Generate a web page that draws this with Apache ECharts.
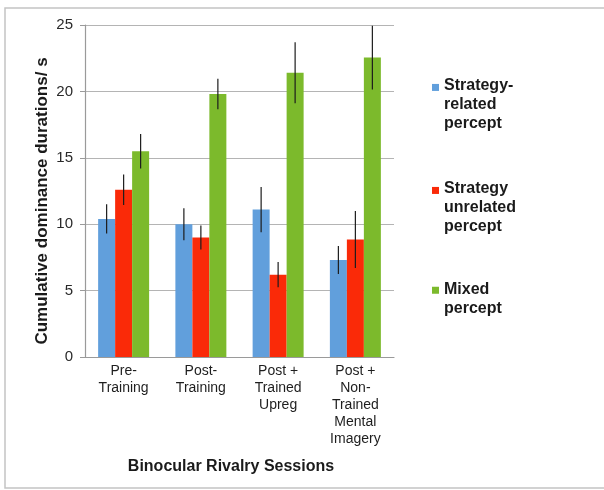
<!DOCTYPE html>
<html>
<head>
<meta charset="utf-8">
<script src="https://cdn.jsdelivr.net/npm/echarts@6/dist/echarts.min.js"></script>
<style>
  html, body { margin: 0; padding: 0; background: #fff; }
  #chart { width: 604px; height: 490px; }
</style>
</head>
<body>
<div id="chart"></div>
<script>
// Session labels along the x axis
const sessions = ['Pre-\nTraining', 'Post-\nTraining', 'Post +\nTrained\nUpreg', 'Post +\nNon-\nTrained\nMental\nImagery'];

// Mean cumulative dominance durations (s) and their error half-widths
const strategyRelated = [10.4, 10.0, 11.1, 7.3];
const strategyRelatedErr = [1.1, 1.2, 1.7, 1.05];
const strategyUnrelated = [12.6, 9.0, 6.2, 8.85];
const strategyUnrelatedErr = [1.15, 0.9, 0.95, 2.15];
const mixed = [15.5, 19.8, 21.4, 22.55];
const mixedErr = [1.3, 1.15, 2.3, 2.4];

const yTicks = [0, 5, 10, 15, 20, 25];

const seriesNames = ['Strategy-\nrelated\npercept', 'Strategy\nunrelated\npercept', 'Mixed\npercept'];
const colors = ['#619fdc', '#fa2a08', '#7cba2c'];
const CAT_GAP = 0.34;

const means = [strategyRelated, strategyUnrelated, mixed];
const errs = [strategyRelatedErr, strategyUnrelatedErr, mixedErr];

// Error-bar records: [category index, low, high, series index]
const errData = [];
means.forEach((vals, k) => {
  vals.forEach((v, i) => {
    errData.push([i, v - errs[k][i], v + errs[k][i], k]);
  });
});

function renderErr(params, api) {
  const cat = api.value(0);
  const k = api.value(3);
  const band = api.size([1, 0])[0];
  const bw = band * (1 - CAT_GAP) / 3;
  const x = api.coord([cat, 0])[0] + (k - 1) * bw;
  const lo = api.coord([cat, api.value(1)])[1];
  const hi = api.coord([cat, api.value(2)])[1];
  return {
    type: 'line',
    shape: { x1: x, y1: lo, x2: x, y2: hi },
    style: { stroke: '#1c1c1c', lineWidth: 1.2 }
  };
}

const chart = echarts.init(document.getElementById('chart'), null, { renderer: 'canvas' });

const FONT = '"Liberation Sans", Arial, sans-serif';
const LINE_H = 19;

// square legend marker beside the first text line of an item `h` px tall
function marker(h) {
  return 'path://M0,0M0,5H8V13H0ZM8,' + h;
}

const legendText = { fontFamily: FONT, fontSize: 16, fontWeight: 'bold', color: '#1a1a1a', lineHeight: LINE_H };

chart.setOption({
  animation: false,
  backgroundColor: '#ffffff',
  textStyle: { fontFamily: FONT },
  grid: { left: 85, right: 210, top: 25, bottom: 133, containLabel: false },
  legend: [
    {
      orient: 'vertical',
      left: 427,
      top: 71,
      itemWidth: 7,
      itemHeight: LINE_H * 3,
      itemGap: 46,
      selectedMode: false,
      textStyle: legendText,
      data: [
        { name: seriesNames[0], icon: marker(LINE_H * 3) },
        { name: seriesNames[1], icon: marker(LINE_H * 3) }
      ]
    },
    {
      orient: 'vertical',
      left: 427,
      top: 275,
      itemWidth: 7,
      itemHeight: LINE_H * 2,
      selectedMode: false,
      textStyle: legendText,
      data: [
        { name: seriesNames[2], icon: marker(LINE_H * 2) }
      ]
    }
  ],
  xAxis: {
    type: 'category',
    data: sessions,
    axisLine: { lineStyle: { color: '#9a9a9a', width: 1.2 } },
    axisTick: { show: false },
    axisLabel: { interval: 0, fontSize: 14, lineHeight: 17, color: '#1e1e1e', margin: 6, fontFamily: FONT }
  },
  yAxis: {
    type: 'value',
    min: yTicks[0],
    max: yTicks[yTicks.length - 1],
    interval: yTicks[1] - yTicks[0],
    axisLine: { show: true, lineStyle: { color: '#9a9a9a', width: 1.2 } },
    axisTick: { show: true, inside: false, length: 5, lineStyle: { color: '#9a9a9a' } },
    splitLine: { lineStyle: { color: '#b4b4b4', width: 1.2 } },
    axisLabel: { fontSize: 15, color: '#2a2a2a', margin: 12, fontFamily: FONT }
  },
  graphic: [
    {
      type: 'rect',
      silent: true,
      shape: { x: 5, y: 8, width: 640, height: 480 },
      style: { fill: 'none', stroke: '#c4c4c4', lineWidth: 1.5 },
      z: -10
    },
    {
      type: 'text',
      x: 42,
      y: 201,
      rotation: Math.PI / 2,
      style: {
        text: 'Cumulative dominance durations/ s',
        font: 'bold 17px ' + FONT,
        fill: '#1a1a1a',
        textAlign: 'center',
        textVerticalAlign: 'middle'
      }
    },
    {
      type: 'text',
      x: 231,
      y: 467,
      style: {
        text: 'Binocular Rivalry Sessions',
        font: 'bold 16px ' + FONT,
        fill: '#1a1a1a',
        textAlign: 'center',
        textVerticalAlign: 'middle'
      }
    }
  ],
  series: [
    {
      name: seriesNames[0], type: 'bar', data: strategyRelated,
      barGap: '0%', barCategoryGap: (CAT_GAP * 100) + '%',
      itemStyle: { color: colors[0] }
    },
    {
      name: seriesNames[1], type: 'bar', data: strategyUnrelated,
      barGap: '0%', barCategoryGap: (CAT_GAP * 100) + '%',
      itemStyle: { color: colors[1] }
    },
    {
      name: seriesNames[2], type: 'bar', data: mixed,
      barGap: '0%', barCategoryGap: (CAT_GAP * 100) + '%',
      itemStyle: { color: colors[2] }
    },
    {
      name: 'error', type: 'custom', renderItem: renderErr, data: errData,
      encode: { x: 0, y: [1, 2] }, z: 5, silent: true
    }
  ]
});
</script>
</body>
</html>
